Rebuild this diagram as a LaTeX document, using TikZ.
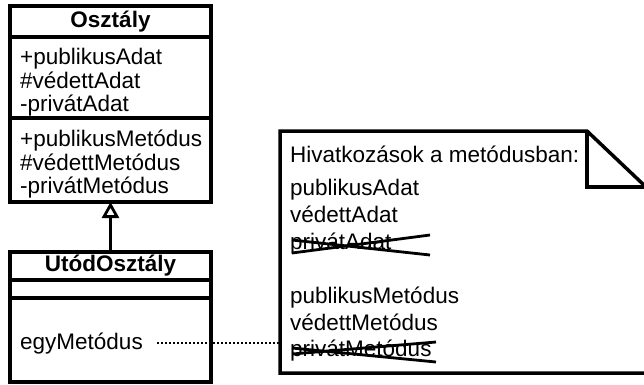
\documentclass[tikz,border=0pt]{standalone}
\usepackage{fontspec}
\setmainfont{Liberation Sans}
\usetikzlibrary{arrows.meta}

\tikzset{
    box/.style={draw, line width=3.5pt, minimum width=201pt, inner sep=0pt, outer sep=0pt, anchor=north west},
    member/.style={anchor=base west, inner sep=0pt, font=\fontsize{22.5}{27}\selectfont},
    title/.style={inner sep=0pt, font=\fontsize{22.5}{27}\selectfont\bfseries},
    strike/.style={line width=2.8pt},
}

\begin{document}
\begin{tikzpicture}[x=1pt, y=-1pt]
    \useasboundingbox (0,0) rectangle (644,384);

    % Osztaly
    \node[box, minimum height=31pt] (osztTitle) at (10,6) {};
    \node[box, minimum height=81pt] (osztAttr) at (osztTitle.south west) {};
    \node[box, minimum height=84pt] (osztMeth) at (osztAttr.south west) {};
    \node[title] at (osztTitle.center) {Osztály};
    \node[member] (pubAdat) at (20,64) {+publikusAdat};
    \node[member] (vedAdat) at (20,88) {\#védettAdat};
    \node[member] (privAdat) at (20,111) {-privátAdat};
    \node[member] (pubMet) at (20,146) {+publikusMetódus};
    \node[member] (vedMet) at (20,170) {\#védettMetódus};
    \node[member] (privMet) at (20,193) {-privátMetódus};

    % UtodOsztaly
    \node[box, minimum height=28pt] (utodTitle) at (10,252) {};
    \node[box, minimum height=18pt] (utodAttr) at (utodTitle.south west) {};
    \node[box, minimum height=84pt] (utodMeth) at (utodAttr.south west) {};
    \node[title] at (utodTitle.center) {UtódOsztály};
    \node[member] (egyMet) at (20,349) {egyMetódus};

    \draw[line width=3.5pt, -{Triangle[open, length=16pt, width=17pt, line width=2.8pt]}] (utodTitle.north) -- (osztMeth.south);

    % megjegyzes
    \coordinate (nw) at (280,131);
    \coordinate (fold) at (587,131);
    \coordinate (foldin) at (587,187);
    \coordinate (ne) at (646,187);
    \coordinate (se) at (646,373);
    \coordinate (sw) at (280,373);
    \draw[line width=3.5pt, line join=miter] (nw) -- (fold) -- (ne) -- (se) -- (sw) -- cycle;
    \draw[line width=3.5pt] (fold) -- (foldin) -- (ne);

    \node[member] (hiv) at (290,162) {Hivatkozások a metódusban:};
    \node[member] (nPubAdat) at (290,195) {publikusAdat};
    \node[member] (nVedAdat) at (290,222) {védettAdat};
    \node[member] (nPrivAdat) at (290,249) {privátAdat};
    \node[member] (nPubMet) at (290,303) {publikusMetódus};
    \node[member] (nVedMet) at (290,330) {védettMetódus};
    \node[member] (nPrivMet) at (290,356) {privátMetódus};

    \draw[strike] ([shift={(2,-9)}]nPrivAdat.base west) -- ([shift={(140,6)}]nPrivAdat.base west);
    \draw[strike] ([shift={(2,4)}]nPrivAdat.base west) -- ([shift={(140,-14)}]nPrivAdat.base west);
    \draw[strike] ([shift={(2,-8)}]nPrivMet.base west) -- ([shift={(146,6)}]nPrivMet.base west);
    \draw[strike] ([shift={(2,-2)}]nPrivMet.base west) -- ([shift={(146,-14)}]nPrivMet.base west);

    \draw[line width=2.8pt, dash pattern=on 2pt off 2pt] ([shift={(14,-6)}]egyMet.base east) -- ([shift={(0,-6)}]egyMet.base east -| nw);
\end{tikzpicture}
\end{document}
